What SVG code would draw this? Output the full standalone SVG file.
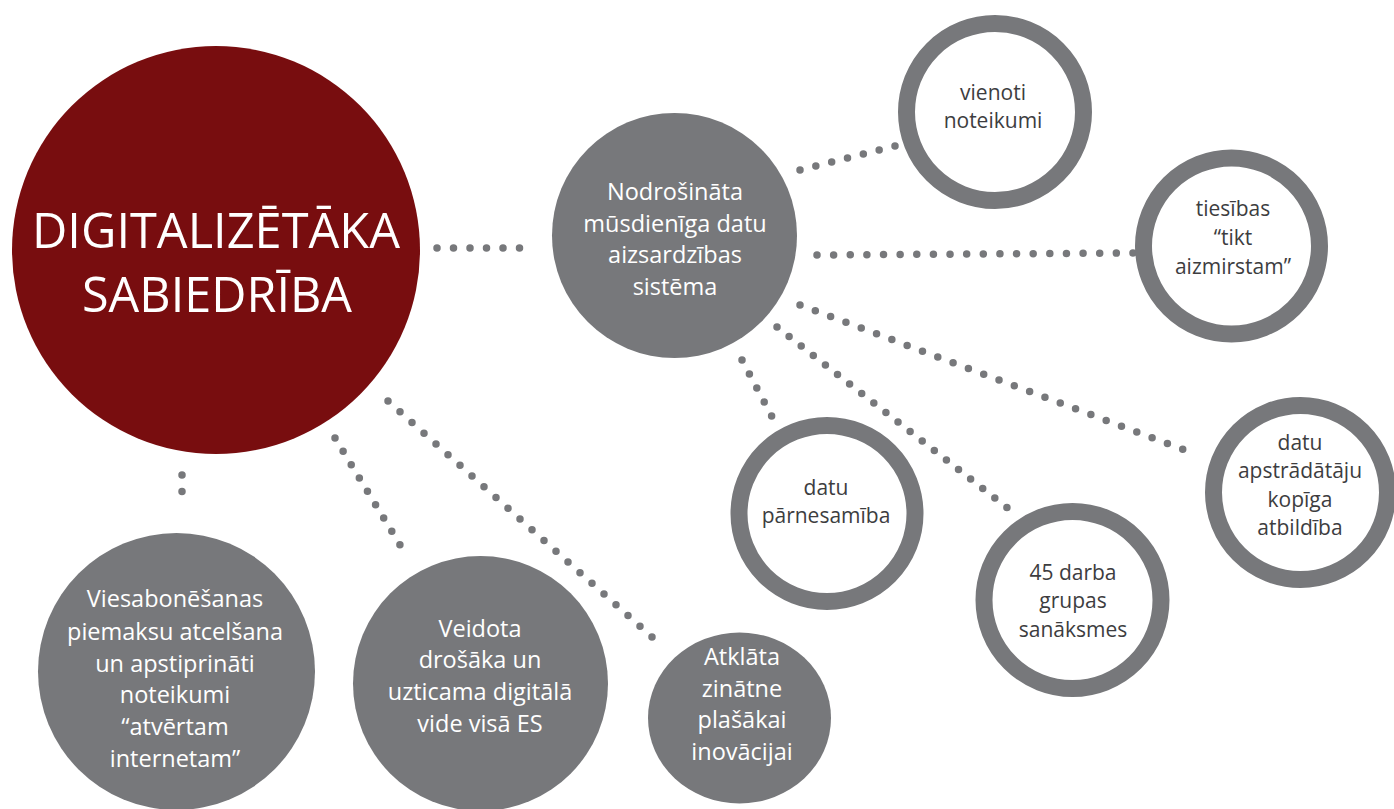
<svg xmlns="http://www.w3.org/2000/svg" width="1394" height="809" viewBox="0 0 1394 809">
<style>
.bg{fill:#ffffff}
.red{fill:#780d0f}
.gray{fill:#77787b}
.ring{fill:#ffffff;stroke:#77787b;stroke-width:17}
.dots{fill:none;stroke:#77787b;stroke-width:7.5;stroke-linecap:round}
.main{font-family:"Open Sans","Noto Sans",sans-serif;font-size:49px;fill:#ffffff;text-anchor:middle}
.wt{font-family:"Open Sans","Noto Sans",sans-serif;font-size:23.5px;fill:#ffffff;text-anchor:middle}
.dk{font-family:"Open Sans","Noto Sans",sans-serif;font-size:21px;fill:#3d3d3f;text-anchor:middle}
</style>
<rect class="bg" x="0" y="0" width="1394" height="809"/>
<g id="connectors">
<line class="dots" x1="437" y1="248" x2="536" y2="248" stroke-dasharray="0 16.5"/>
<line class="dots" x1="182" y1="475" x2="182" y2="508" stroke-dasharray="0 16.5"/>
<line class="dots" x1="335" y1="438" x2="408" y2="558" stroke-dasharray="0 15.61"/>
<line class="dots" x1="388" y1="401" x2="652" y2="637" stroke-dasharray="0 16.095"/>
<line class="dots" x1="800" y1="170" x2="895" y2="146" stroke-dasharray="0 16.33"/>
<line class="dots" x1="817" y1="255" x2="1133" y2="253" stroke-dasharray="0 16.63"/>
<line class="dots" x1="742" y1="360" x2="779" y2="430" stroke-dasharray="0 15.84"/>
<line class="dots" x1="777" y1="327" x2="1019" y2="517" stroke-dasharray="0 15.385"/>
<line class="dots" x1="800" y1="305" x2="1198" y2="455" stroke-dasharray="0 16.36"/>
</g>
<g id="digitalizetaka">
<circle class="red" cx="216" cy="250" r="204"/>
<text class="main" x="216" y="248" textLength="368" lengthAdjust="spacingAndGlyphs">DIGITALIZĒTĀKA</text>
<text class="main" x="217" y="312" textLength="270" lengthAdjust="spacingAndGlyphs">SABIEDRĪBA</text>
</g>
<g id="nodrosinata">
<circle class="gray" cx="674.5" cy="235.5" r="122.5"/>
<text class="wt" x="675" y="200">Nodrošināta</text>
<text class="wt" x="675" y="232">mūsdienīga datu</text>
<text class="wt" x="675" y="263">aizsardzības</text>
<text class="wt" x="675" y="295">sistēma</text>
</g>
<g id="vienoti">
<circle class="ring" cx="995" cy="112" r="88.5"/>
<text class="dk" x="993" y="100">vienoti</text>
<text class="dk" x="993" y="128">noteikumi</text>
</g>
<g id="tiesibas">
<circle class="ring" cx="1231.5" cy="246" r="88"/>
<text class="dk" x="1233" y="216">tiesības</text>
<text class="dk" x="1233" y="245">“tikt</text>
<text class="dk" x="1233" y="274">aizmirstam”</text>
</g>
<g id="parnesamiba">
<circle class="ring" cx="827" cy="513.5" r="88"/>
<text class="dk" x="826" y="495">datu</text>
<text class="dk" x="826" y="523">pārnesamība</text>
</g>
<g id="darba-grupas">
<circle class="ring" cx="1072.5" cy="600" r="88.5"/>
<text class="dk" x="1073" y="580">45 darba</text>
<text class="dk" x="1073" y="608">grupas</text>
<text class="dk" x="1073" y="637">sanāksmes</text>
</g>
<g id="apstradataju">
<circle class="ring" cx="1300.5" cy="492.5" r="87"/>
<text class="dk" x="1300" y="450">datu</text>
<text class="dk" x="1300" y="478">apstrādātāju</text>
<text class="dk" x="1300" y="507">kopīga</text>
<text class="dk" x="1300" y="535">atbildība</text>
</g>
<g id="viesabonesanas">
<circle class="gray" cx="176.5" cy="671.5" r="138.5"/>
<text class="wt" x="175" y="607">Viesabonēšanas</text>
<text class="wt" x="175" y="640">piemaksu atcelšana</text>
<text class="wt" x="175" y="672">un apstiprināti</text>
<text class="wt" x="175" y="703">noteikumi</text>
<text class="wt" x="175" y="735">“atvērtam</text>
<text class="wt" x="175" y="767">internetam”</text>
</g>
<g id="veidota">
<circle class="gray" cx="480.5" cy="683.5" r="127.5"/>
<text class="wt" x="480" y="637">Veidota</text>
<text class="wt" x="480" y="668">drošāka un</text>
<text class="wt" x="480" y="700">uzticama digitālā</text>
<text class="wt" x="480" y="732">vide visā ES</text>
</g>
<g id="atklata">
<ellipse class="gray" cx="739.5" cy="718" rx="91.5" ry="85.5"/>
<text class="wt" x="742" y="665">Atklāta</text>
<text class="wt" x="742" y="697">zinātne</text>
<text class="wt" x="742" y="728">plašākai</text>
<text class="wt" x="742" y="760">inovācijai</text>
</g>
</svg>
